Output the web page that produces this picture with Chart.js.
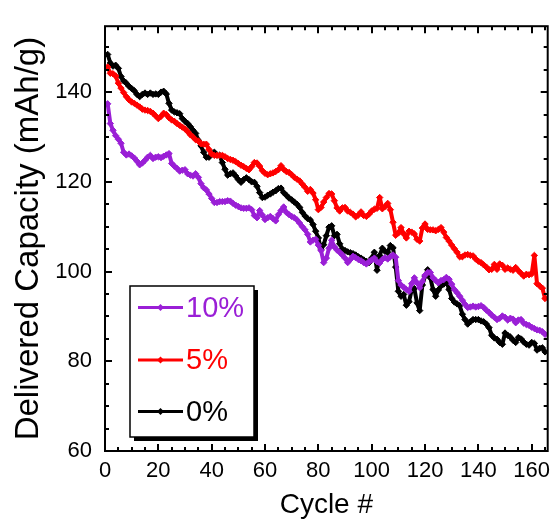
<!DOCTYPE html>
<html><head><meta charset="utf-8">
<script src="https://cdn.jsdelivr.net/npm/chart.js@4.4.1/dist/chart.umd.min.js"></script>
<style>html,body{margin:0;padding:0;background:#fff;}#wrap{width:559px;height:519px;}</style>
</head><body><div id="wrap"><canvas id="c" width="559" height="519"></canvas></div>
<script>
const seriesLabels = ['10%', '5%', '0%'];
const seriesColors = ['#9A1FD6', '#FF0000', '#000000'];
const xTicks = [0, 20, 40, 60, 80, 100, 120, 140, 160];
const yTicks = [60, 80, 100, 120, 140];
const xTitle = 'Cycle #';
const yTitle = 'Delivered Capacity (mAh/g)';

const cap10 = [
137.4,133,131.5,130.3,129.5,128.6,126.6,126,126.2,125.8,
125.3,124.6,123.8,124.2,124.8,125.5,125.9,125.2,125.5,125.6,
125.4,125.7,126,126.3,124.1,123.5,123,122.4,122.6,122.7,
121.8,121.5,121.3,121.8,121,119.6,118.7,118.2,117.3,116.3,
115.4,115.4,115.6,115.6,115.6,115.8,115.7,115.2,114.8,114.5,
114.2,114.1,114.1,114.2,113.8,112.5,112,113.6,112.6,111.6,
112,112.3,111.8,111.3,112.7,113.6,114.4,113.2,112.7,112.3,
112,111.5,110.8,110,109.3,108.3,106.6,107,107.2,105.9,
104.7,102,103,105.2,107,105.5,104.8,104.3,103.7,103,
102,102.7,103.4,103.1,102.7,102.4,102,101.7,102.2,102.6,
103,102.2,101.9,102.7,103.1,102.8,103.3,103.7,103.2,98,
97,96.5,96,95.6,97.3,98.6,97.5,96.4,97.8,99.2,
99.8,99.8,98.6,98,97.5,98,98.2,98.7,98.3,97.2,
96,95.3,94.5,93.6,92.7,92,92.1,92.3,92.1,92.2,
92.4,92,91.4,90.9,90.3,89.8,89.3,89.6,90.1,89.8,
89.2,89.6,89.4,88.6,89.2,89.3,88.5,88.2,88,87.6,
87.3,87,86.9,86.6,86];

const cap5 = [
145.6,144.2,144.1,143.6,142,140.9,139.9,139,138.3,137.8,
137.5,137.1,136.7,136.2,136,135.9,135.7,135.3,134.7,134.1,
134.6,135.3,135,134.3,133.8,133.5,133,132.6,132.2,131.8,
131.2,130.5,130,129.4,129.1,128.5,128.4,128.4,127.2,126.2,
125.9,125.9,125.9,125.9,125.6,125.2,125,124.8,124.5,124.1,
123.7,123.4,123,122.7,123.4,124.3,124.2,123.5,122.5,121.9,
121.6,121.8,122,122.3,122.7,123.6,122.8,122.3,122.1,121.6,
121,120.6,120.2,119.5,118.8,117.9,118.3,117.5,116,113.8,
114.3,115.5,116.5,117.4,117.3,115.8,114.2,113.5,114.2,114.3,
113.5,113.2,112.8,112.2,112.6,113.3,112.5,112.3,112.8,113.5,
113.9,114.1,116.5,114,114.5,115.2,113.8,111,108.1,108.6,
109.8,108.4,107.5,109,108.8,108.4,107.2,106.8,109.7,110.6,
109.4,109.3,109.3,109.1,109.4,109.8,108.8,107.6,106.8,105.9,
105.1,104.3,103.3,103.3,103.7,103.8,103.6,103.5,102.8,102.3,
102,101.5,101,100.4,100.5,101.6,100.5,101.7,101.4,100.5,
100.8,100.5,100.3,100.9,100.2,99.6,99,99.4,99.3,99.5,
103.6,97.3,96.8,96.3,94];

const cap0 = [
148.4,146.5,145.8,146,145.3,143.5,142.5,142,141.3,140.8,
140.3,139.5,139,139.5,139.8,139.5,139.8,139.5,139.6,139.5,
140,140.2,139.6,137.5,136,135.6,135.4,135.2,134.1,133.5,
133,132.3,131.5,130.8,129.3,128,126.6,125.5,125.5,126.2,
126.6,126,125.9,124.3,122.8,121.5,121.8,122,121.3,120.5,
119.9,120.5,120.9,120.5,120,119.9,119,117.6,116.5,116.6,
117,117.3,117.7,118,118.5,118.6,117.6,117,116.4,116,
115.5,115,114.3,113.2,112.4,111.8,111.5,110.5,109,107.5,
105,106,108,109.9,110.2,108,108.3,106.2,105,104.7,
104.4,104.2,104,103.7,103.3,103,102.6,102.3,102,103,
104.3,100.3,103.6,105.2,104.5,104.3,105.8,105.3,101,95.6,
94.5,94.9,92.5,93.3,95.9,96.2,93,91.3,97,99,
100.4,98.6,96,94.5,95.9,96.8,97.2,97.9,96,94,
93.2,92.8,92.4,90.5,89.3,88.3,88.8,89.3,89.3,89.3,
89,88.8,88.3,87.5,85.8,85.2,84.9,84.2,83.8,86.3,
85.8,85.4,84.7,84.2,85.3,85,84.3,83.8,83.6,84.2,
84,82.5,82.9,83,82.1];

const cycles = cap0.map((_, i) => i + 1);
const seriesValues = [cap10, cap5, cap0];

const FONT = 'Liberation Sans, Arial, Helvetica, sans-serif';

const framePlugin = {
  id: 'frame',
  afterDatasetsDraw(chart) {
    const ctx = chart.ctx, a = chart.chartArea;
    const xs = chart.scales.x, ys = chart.scales.y;
    ctx.save();
    ctx.strokeStyle = '#000';
    ctx.lineWidth = 2;
    ctx.strokeRect(a.left, a.top, a.right - a.left, a.bottom - a.top);
    ctx.beginPath();
    for (let v = xs.min; v <= xs.max; v += 5) {
      const p = Math.round(xs.getPixelForValue(v));
      const L = (v % 20 === 0) ? 7 : 4;
      ctx.moveTo(p, a.bottom); ctx.lineTo(p, a.bottom - L);
      ctx.moveTo(p, a.top); ctx.lineTo(p, a.top + L);
    }
    for (let v = ys.min; v <= ys.max; v += 5) {
      const p = Math.round(ys.getPixelForValue(v));
      const L = ((v - 60) % 20 === 0) ? 7 : 4;
      ctx.moveTo(a.left, p); ctx.lineTo(a.left + L, p);
      ctx.moveTo(a.right, p); ctx.lineTo(a.right - L, p);
    }
    ctx.stroke();
    ctx.restore();
  }
};

const legendPlugin = {
  id: 'boxLegend',
  afterDraw(chart) {
    const ctx = chart.ctx;
    const bx = 130, by = 286, bw = 124, bh = 151;
    ctx.save();
    ctx.fillStyle = '#000';
    ctx.fillRect(bx + 4, by + 4, bw, bh);
    ctx.fillStyle = '#fff';
    ctx.fillRect(bx, by, bw, bh);
    ctx.strokeStyle = '#000';
    ctx.lineWidth = 1.5;
    ctx.strokeRect(bx, by, bw, bh);
    const rows = [307.5, 360, 411.5];
    chart.data.datasets.forEach((ds, i) => {
      const y = rows[i];
      ctx.strokeStyle = ds.borderColor;
      ctx.lineWidth = 3;
      ctx.beginPath(); ctx.moveTo(138, y); ctx.lineTo(183, y); ctx.stroke();
      ctx.fillStyle = ds.borderColor;
      ctx.beginPath();
      ctx.moveTo(160.5, y - 3.5); ctx.lineTo(164, y); ctx.lineTo(160.5, y + 3.5); ctx.lineTo(157, y);
      ctx.closePath(); ctx.fill();
      ctx.font = '29px ' + FONT;
      ctx.textAlign = 'left';
      ctx.textBaseline = 'middle';
      ctx.fillText(ds.label, 186, y + 1);
    });
    ctx.restore();
  }
};

new Chart(document.getElementById('c'), {
  type: 'line',
  data: {
    datasets: seriesLabels.map((lab, i) => ({
      label: lab,
      data: cycles.map((c, j) => ({x: c, y: seriesValues[i][j]})),
      borderColor: seriesColors[i],
      backgroundColor: seriesColors[i],
      pointBackgroundColor: seriesColors[i],
      pointBorderColor: seriesColors[i],
      borderWidth: 4,
      pointStyle: 'rectRot',
      pointRadius: 3.2,
      pointBorderWidth: 1,
      borderJoinStyle: 'round',
      tension: 0,
      fill: false
    }))
  },
  options: {
    responsive: false,
    devicePixelRatio: 1,
    animation: false,
    events: [],
    layout: {padding: {left: 0, right: 11.3, top: 9, bottom: 0}},
    plugins: {legend: {display: false}, tooltip: {enabled: false}},
    scales: {
      x: {
        type: 'linear', min: 0, max: 166,
        afterBuildTicks: s => { s.ticks = xTicks.map(v => ({value: v})); },
        afterFit: s => { s.height = 68; },
        grid: {display: false, drawTicks: false},
        border: {display: false},
        ticks: {color: '#000', font: {family: FONT, size: 22}, padding: 7, maxRotation: 0, autoSkip: false},
        title: {display: true, text: xTitle, color: '#000', font: {family: FONT, size: 28, lineHeight: 1}, padding: {top: 1, bottom: 0}}
      },
      y: {
        type: 'linear', min: 60, max: 154.7,
        afterBuildTicks: s => { s.ticks = yTicks.map(v => ({value: v})); },
        afterFit: s => { s.width = 105; },
        grid: {display: false, drawTicks: false},
        border: {display: false},
        ticks: {color: '#000', font: {family: FONT, size: 22}, padding: 13, autoSkip: false},
        title: {display: true, text: yTitle, color: '#000', font: {family: FONT, size: 33, lineHeight: 1}, padding: {top: 12, bottom: 0}}
      }
    }
  },
  plugins: [framePlugin, legendPlugin]
});
</script>
</body></html>
